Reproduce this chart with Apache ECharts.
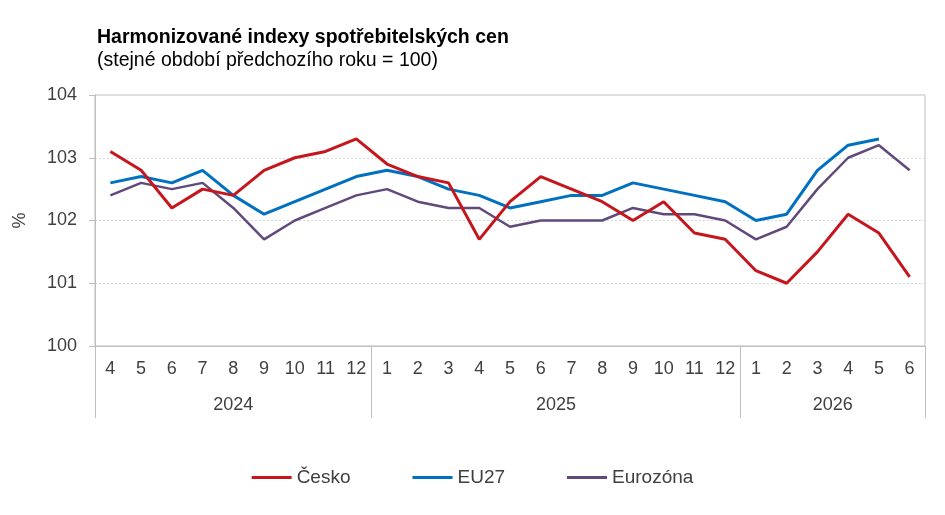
<!DOCTYPE html>
<html>
<head>
<meta charset="utf-8">
<script src="https://cdn.jsdelivr.net/npm/echarts@6/dist/echarts.min.js"></script>
<style>
  html, body { margin: 0; padding: 0; background: #fff; }
  #chart { width: 945px; height: 515px; }
</style>
</head>
<body>
<div id="chart"></div>
<script>
// months along the axis, grouped by year
const months = ['4','5','6','7','8','9','10','11','12',
  '1','2','3','4','5','6','7','8','9','10','11','12',
  '1','2','3','4','5','6'];
const years = ['2024', '2025', '2026'];
const yearSpans = [9, 12, 6];

const cesko = [103.1, 102.8, 102.2, 102.5, 102.4, 102.8, 103.0, 103.1, 103.3,
  102.9, 102.7, 102.6, 101.7, 102.3, 102.7, 102.5, 102.3, 102.0, 102.3, 101.8, 101.7,
  101.2, 101.0, 101.5, 102.1, 101.8, 101.1];
const eu27 = [102.6, 102.7, 102.6, 102.8, 102.4, 102.1, 102.3, 102.5, 102.7,
  102.8, 102.7, 102.5, 102.4, 102.2, 102.3, 102.4, 102.4, 102.6, 102.5, 102.4, 102.3,
  102.0, 102.1, 102.8, 103.2, 103.3, null];
const eurozona = [102.4, 102.6, 102.5, 102.6, 102.2, 101.7, 102.0, 102.2, 102.4,
  102.5, 102.3, 102.2, 102.2, 101.9, 102.0, 102.0, 102.0, 102.2, 102.1, 102.1, 102.0,
  101.7, 101.9, 102.5, 103.0, 103.2, 102.8];

const yTicks = [100, 101, 102, 103, 104];

// group boundaries and centres for the year axis
const bounds = [0];
const centres = [];
yearSpans.forEach((n, i) => {
  centres.push(bounds[i] + n / 2);
  bounds.push(bounds[i] + n);
});

const grey = '#bfbfbf';
const txt = '#404040';
const font = 'Liberation Sans, Arial, sans-serif';

const chart = echarts.init(document.getElementById('chart'), null, { renderer: 'canvas' });

const option = {
  animation: false,
  textStyle: { fontFamily: font },
  title: {
    text: 'Harmonizované indexy spotřebitelských cen',
    subtext: '(stejné období předchozího roku = 100)',
    left: 92,
    top: 23,
    itemGap: 3,
    textStyle: { fontSize: 19.5, fontWeight: 'bold', color: '#000', fontFamily: font },
    subtextStyle: { fontSize: 19.5, color: '#000', fontFamily: font }
  },
  legend: {
    bottom: 23,
    left: 'center',
    icon: 'rect',
    itemWidth: 40,
    itemHeight: 3,
    itemGap: 62,
    textStyle: { fontSize: 19, color: txt, fontFamily: font },
    data: ['Česko', 'EU27', 'Eurozóna']
  },
  grid: {
    left: 95,
    right: 20,
    top: 95,
    bottom: 169,
    show: true,
    borderColor: grey,
    borderWidth: 1
  },
  xAxis: [
    {
      type: 'category',
      data: months,
      boundaryGap: true,
      axisLine: { lineStyle: { color: grey } },
      axisTick: { show: false },
      axisLabel: { interval: 0, fontSize: 18, color: txt, margin: 14 },
      splitLine: { show: false }
    },
    {
      type: 'value',
      position: 'bottom',
      min: 0,
      max: months.length,
      axisLine: { show: false },
      axisTick: {
        show: true,
        customValues: bounds,
        length: 72,
        lineStyle: { color: grey }
      },
      axisLabel: {
        customValues: centres,
        fontSize: 18,
        color: txt,
        margin: 50,
        formatter: v => years[centres.indexOf(v)] || ''
      },
      splitLine: { show: false }
    }
  ],
  yAxis: {
    type: 'value',
    min: yTicks[0],
    max: yTicks[yTicks.length - 1],
    interval: 1,
    name: '%',
    nameLocation: 'middle',
    nameGap: 66,
    nameRotate: 90,
    nameTextStyle: { fontSize: 18, color: txt },
    axisLine: { show: true, lineStyle: { color: grey } },
    axisTick: { show: true, length: 6, lineStyle: { color: grey } },
    axisLabel: { fontSize: 18, color: txt, margin: 18 },
    splitLine: {
      show: true,
      showMinLine: false,
      showMaxLine: false,
      lineStyle: { color: '#d9d9d9', type: [2, 2] }
    }
  },
  series: [
    {
      name: 'Česko',
      type: 'line',
      data: cesko,
      symbol: 'none',
      lineStyle: { color: '#c4161c', width: 3 },
      itemStyle: { color: '#c4161c' },
      z: 3
    },
    {
      name: 'EU27',
      type: 'line',
      data: eu27,
      symbol: 'none',
      lineStyle: { color: '#0070c0', width: 3 },
      itemStyle: { color: '#0070c0' },
      z: 2
    },
    {
      name: 'Eurozóna',
      type: 'line',
      data: eurozona,
      symbol: 'none',
      lineStyle: { color: '#604a7b', width: 2.5 },
      itemStyle: { color: '#604a7b' },
      z: 1
    }
  ]
};

chart.setOption(option);
</script>
</body>
</html>
